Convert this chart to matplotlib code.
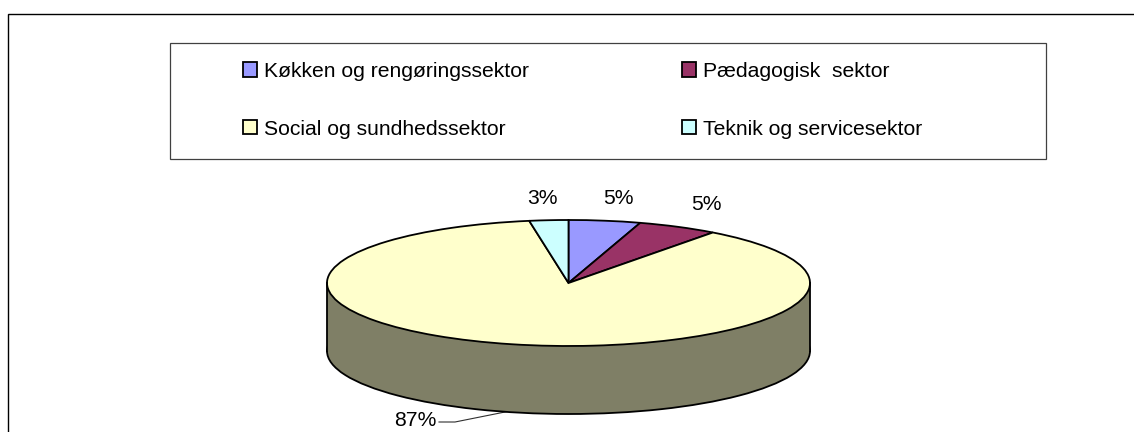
import matplotlib
matplotlib.use("Agg")
import matplotlib.pyplot as plt
from matplotlib.patches import Rectangle

plt.rcParams['font.family'] = ['Liberation Sans', 'DejaVu Sans']

categories = ["Køkken og rengøringssektor", "Pædagogisk  sektor",
              "Social og sundhedssektor", "Teknik og servicesektor"]
values = [4.8, 5.4, 87.2, 2.6]
colors = ["#9999FF", "#993366", "#FFFFCC", "#CCFFFF"]
side_color = "#7F7F66"

W, H = 1134, 432
fig = plt.figure(figsize=(W / 100, H / 100), dpi=100, facecolor="white")

# pixel overlay for frame, legend box, labels
bg = fig.add_axes([0, 0, 1, 1], zorder=2)
bg.set_xlim(0, W); bg.set_ylim(H, 0); bg.axis("off")
bg.patch.set_alpha(0)
bg.plot([7.5, 7.5, W], [H, 13.5, 13.5], color="black", lw=1.0, solid_joinstyle="miter")
bg.add_patch(Rectangle((170, 43), 876, 116, fc="white", ec="#404040", lw=0.9, zorder=0))

# pie: an elliptical footprint from a squashed axes
cx, cy, rx, ry, depth = 568.5, 283, 241.5, 63, 68
pie_ax = fig.add_axes([(cx - rx) / W, 1 - (cy + ry + depth + 4) / H,
                       2 * rx / W, (2 * ry + depth + 8) / H], zorder=3)
d = depth / ry
edge = dict(edgecolor="black", linewidth=1.3)
pie_ax.pie([sum(values)], colors=[side_color], center=(0, -d), radius=1,
           wedgeprops=edge)
pie_ax.fill_between([-1, 1], [-d, -d], [0, 0], color=side_color, lw=0)
pie_ax.plot([-1, -1], [0, -d], color="black", lw=1.3)
pie_ax.plot([1, 1], [0, -d], color="black", lw=1.3)
wedges, _ = pie_ax.pie(values, colors=colors, startangle=90, counterclock=False,
                       center=(0, 0), radius=1, wedgeprops=edge)
pie_ax.set_aspect("auto")
pie_ax.set_xlim(-1, 1)
pie_ax.set_ylim(-1 - d - 4 / ry, 1 + 4 / ry)
for a in pie_ax.patches + pie_ax.lines:
    a.set_clip_on(False)

# legend
order = [0, 2, 1, 3]
leg = fig.legend([wedges[i] for i in order], [categories[i] for i in order],
                 ncols=2, loc="upper left", bbox_to_anchor=(243 / W, 1 - 62 / H),
                 frameon=False, fontsize=15.2, handlelength=0.66, handleheight=0.66,
                 handletextpad=0.33, labelspacing=1.83, columnspacing=7.24,
                 borderpad=0, borderaxespad=0)
for h in leg.legend_handles:
    h.set_edgecolor("black"); h.set_linewidth(1.3)

# percent labels, from the values
label_xy = [(618, 198), (706, 205), (415, 421), (542, 198)]
for v, (x, y) in zip(values, label_xy):
    bg.text(x, y, f"{v:.0f}%", fontsize=15.2, ha="center", va="center", color="black")
bg.plot([439, 455, 510], [422, 422, 411], color="#303030", lw=0.8, zorder=5)

fig.savefig("out.png", dpi=100, facecolor="white")
